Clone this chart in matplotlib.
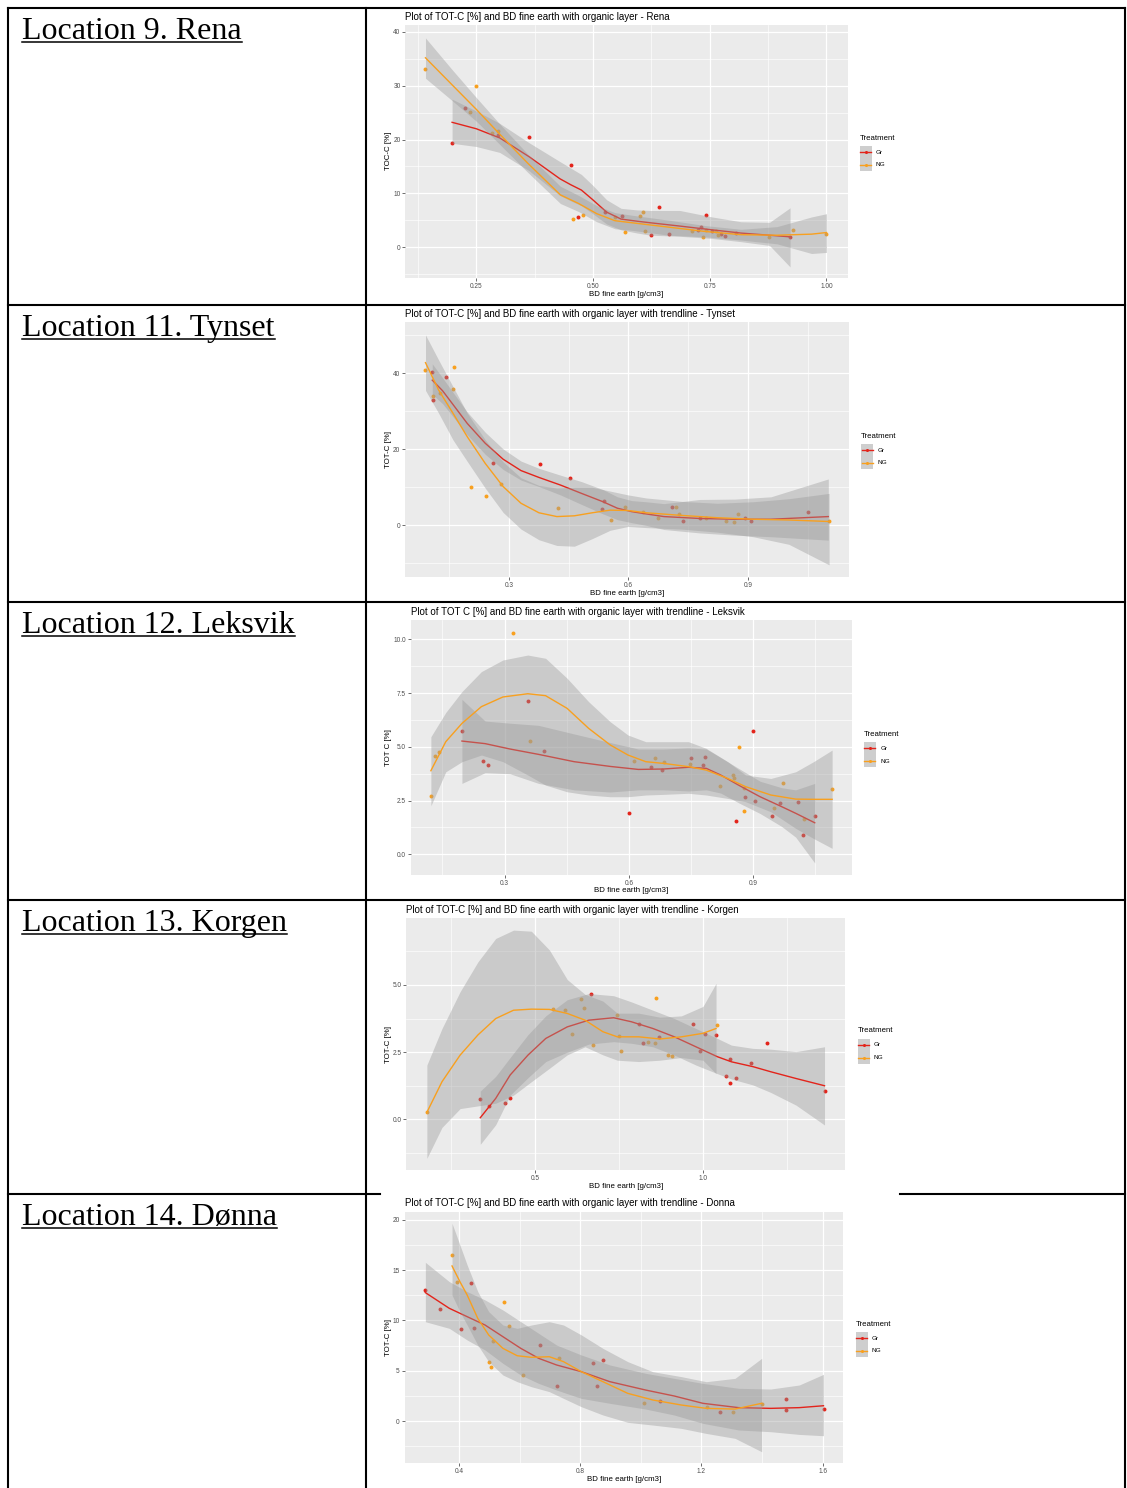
import matplotlib
matplotlib.use("Agg")
import matplotlib.pyplot as plt
from matplotlib.lines import Line2D
from matplotlib.patches import Rectangle

W, H = 1127, 1488

# ---------------- data ----------------
locations = ["Location 9. Rena", "Location 11. Tynset", "Location 12. Leksvik",
             "Location 13. Korgen", "Location 14. Dønna"]
titles = ["Plot of TOT-C [%] and BD fine earth with organic layer - Rena",
          "Plot of TOT-C [%] and BD fine earth with organic layer with trendline - Tynset",
          "Plot of TOT C [%] and BD fine earth with organic layer with trendline - Leksvik",
          "Plot of TOT-C [%] and BD fine earth with organic layer with trendline - Korgen",
          "Plot of TOT-C [%] and BD fine earth with organic layer with trendline - Donna"]
ylabels = ["TOC-C [%]", "TOT-C [%]", "TOT C [%]", "TOT-C [%]", "TOT-C [%]"]
xlabel = "BD fine earth [g/cm3]"
groups = ["Gr", "NG"]

# Rena
rena_xticks = [0.25, 0.50, 0.75, 1.00]
rena_xticklabels = ["0.25", "0.50", "0.75", "1.00"]
rena_yticks = [0, 10, 20, 30, 40]
rena_yticklabels = ["0", "10", "20", "30", "40"]
rena_gr_x = [0.198, 0.226, 0.296, 0.363, 0.452, 0.467, 0.525, 0.563, 0.624, 0.642, 0.663,
             0.725, 0.732, 0.742, 0.754, 0.775, 0.782, 0.806, 0.922]
rena_gr_y = [19.3, 25.9, 20.8, 20.5, 15.3, 5.5, 6.5, 5.8, 2.3, 7.4, 2.5,
             3.1, 3.7, 6.0, 3.0, 2.5, 2.1, 2.6, 1.9]
rena_ng_x = [0.141, 0.25, 0.237, 0.283, 0.296, 0.456, 0.479, 0.546, 0.568, 0.601, 0.607,
             0.612, 0.712, 0.736, 0.742, 0.763, 0.767, 0.876, 0.928, 1.0]
rena_ng_y = [33.1, 29.9, 25.2, 21.3, 21.5, 5.2, 6.0, 5.6, 2.8, 5.7, 6.6,
             3.0, 2.9, 1.9, 3.1, 3.0, 2.3, 1.9, 3.1, 2.4]
rena_gr_fit_x = [0.198, 0.25, 0.30, 0.363, 0.429, 0.452, 0.475, 0.498, 0.529, 0.56, 0.595,
                 0.624, 0.686, 0.755, 0.817, 0.878, 0.922]
rena_gr_fit_y = [23.2, 22.0, 20.3, 16.8, 12.7, 11.6, 10.6, 8.9, 6.5, 5.2, 4.8,
                 4.5, 3.9, 3.2, 2.6, 2.2, 1.9]
rena_gr_hi = [27.5, 25.3, 23.0, 19.4, 15.9, 14.7, 13.5, 11.6, 8.8, 7.2, 6.9,
              6.8, 6.8, 5.6, 4.7, 4.6, 7.3]
rena_gr_lo = [19.3, 18.7, 17.6, 14.2, 9.6, 8.6, 7.7, 6.3, 4.3, 3.2, 2.6,
              2.2, 2.0, 1.6, 1.0, 0.3, -3.7]
rena_ng_fit_x = [0.141, 0.20, 0.25, 0.30, 0.36, 0.43, 0.469, 0.508, 0.547, 0.585, 0.662,
                 0.74, 0.817, 0.894, 0.968, 1.0]
rena_ng_fit_y = [35.2, 30.0, 25.6, 21.0, 15.6, 9.7, 8.1, 6.2, 4.9, 4.5, 3.7, 2.9, 2.3, 2.2, 2.4, 2.7]
rena_ng_hi = [38.9, 32.8, 27.8, 22.9, 17.3, 11.3, 9.6, 7.7, 6.4, 5.9, 5.0, 4.0, 3.3, 3.8, 5.6, 6.2]
rena_ng_lo = [31.4, 27.1, 23.4, 19.1, 13.9, 8.1, 6.6, 4.7, 3.4, 3.1, 2.2, 1.9, 1.3, 0.6, -1.2, -1.0]

# Tynset
tyn_xticks = [0.3, 0.6, 0.9]
tyn_xticklabels = ["0.3", "0.6", "0.9"]
tyn_yticks = [0, 20, 40]
tyn_yticklabels = ["0", "20", "40"]
tyn_gr_x = [0.107, 0.108, 0.141, 0.26, 0.377, 0.453, 0.538, 0.533, 0.709, 0.738, 0.779,
            0.893, 0.907, 1.052]
tyn_gr_y = [40.3, 33.0, 39.1, 16.3, 16.1, 12.5, 6.4, 4.4, 4.9, 1.1, 1.8, 1.8, 1.2, 3.4]
tyn_ng_x = [0.09, 0.108, 0.127, 0.162, 0.159, 0.204, 0.241, 0.28, 0.422, 0.557, 0.592,
            0.637, 0.675, 0.719, 0.726, 0.795, 0.844, 0.866, 0.876, 1.104]
tyn_ng_y = [40.9, 33.9, 34.7, 41.7, 35.8, 10.2, 7.8, 10.9, 4.5, 1.4, 4.7,
            3.6, 2.0, 4.9, 3.0, 1.8, 1.1, 0.9, 3.0, 1.2]
tyn_gr_fit_x = [0.107, 0.133, 0.159, 0.195, 0.24, 0.285, 0.33, 0.375, 0.429, 0.482, 0.536,
                0.572, 0.608, 0.644, 0.689, 0.779, 0.868, 0.958, 1.102]
tyn_gr_fit_y = [38.2, 35.4, 31.8, 26.8, 21.6, 17.4, 14.4, 12.6, 10.6, 8.4, 6.2,
                4.5, 3.6, 3.0, 2.3, 1.8, 1.6, 1.6, 2.3]
tyn_gr_hi = [42.5, 38.8, 35.0, 29.8, 24.5, 20.1, 16.9, 15.0, 13.2, 11.5, 9.4,
             7.5, 6.5, 6.2, 5.7, 6.8, 6.9, 7.5, 12.2]
tyn_gr_lo = [34.5, 32.0, 28.6, 23.8, 18.7, 14.7, 11.9, 10.2, 8.0, 5.5, 3.0,
             1.5, 0.7, 0.0, -1.1, -2.0, -2.6, -3.0, -3.9]
tyn_ng_fit_x = [0.09, 0.123, 0.159, 0.195, 0.24, 0.285, 0.33, 0.375, 0.42, 0.464, 0.509,
                0.554, 0.599, 0.644, 0.734, 0.823, 0.913, 1.003, 1.104]
tyn_ng_fit_y = [42.8, 35.6, 29.5, 23.3, 16.3, 10.2, 5.8, 3.3, 2.3, 2.5, 3.3,
                4.0, 3.9, 3.3, 2.6, 2.0, 1.6, 1.4, 1.0]
tyn_ng_hi = [50.1, 43.5, 36.5, 29.5, 22.5, 16.7, 12.5, 10.5, 9.8, 10.0, 10.0,
             9.0, 8.0, 7.2, 6.3, 5.8, 6.2, 7.0, 8.4]
tyn_ng_lo = [35.5, 29.5, 22.5, 16.8, 9.8, 3.4, -1.0, -3.8, -5.3, -5.5, -3.5,
             -1.3, -0.3, -0.6, -1.0, -1.8, -3.0, -5.0, -10.4]

# Leksvik
lek_xticks = [0.3, 0.6, 0.9]
lek_xticklabels = ["0.3", "0.6", "0.9"]
lek_yticks = [0.0, 2.5, 5.0, 7.5, 10.0]
lek_yticklabels = ["0.0", "2.5", "5.0", "7.5", "10.0"]
lek_gr_x = [0.197, 0.248, 0.26, 0.356, 0.394, 0.6, 0.654, 0.68, 0.749, 0.779, 0.783,
            0.858, 0.9, 0.881, 0.905, 0.947, 0.966, 1.008, 1.02, 1.049]
lek_gr_y = [5.72, 4.36, 4.16, 7.13, 4.79, 1.92, 4.05, 3.94, 4.47, 4.14, 4.51,
            1.55, 5.74, 2.68, 2.50, 1.80, 2.37, 2.43, 0.90, 1.78]
lek_ng_x = [0.122, 0.132, 0.142, 0.32, 0.362, 0.613, 0.664, 0.684, 0.747, 0.82, 0.852,
            0.855, 0.867, 0.877, 0.878, 0.951, 0.972, 1.023, 1.091]
lek_ng_y = [2.71, 4.59, 4.76, 10.31, 5.27, 4.34, 4.47, 4.28, 4.19, 3.19, 3.69,
            3.57, 4.99, 2.02, 3.10, 2.17, 3.30, 1.63, 3.02]
lek_gr_fit_x = [0.197, 0.253, 0.313, 0.382, 0.468, 0.555, 0.623, 0.684, 0.744, 0.787,
                0.822, 0.865, 0.917, 0.969, 1.003, 1.049]
lek_gr_fit_y = [5.27, 5.15, 4.90, 4.65, 4.31, 4.09, 3.95, 3.97, 4.05, 4.00,
                3.69, 3.22, 2.68, 2.22, 1.91, 1.47]
lek_gr_hi = [7.21, 6.2, 6.1, 6.0, 5.6, 5.2, 4.9, 4.9, 4.95, 4.9, 4.5, 4.0, 3.4, 3.1, 3.0, 3.3]
lek_gr_lo = [3.30, 3.8, 3.75, 3.3, 3.0, 2.9, 3.0, 3.0, 2.95, 3.0, 2.85, 2.4, 1.9, 1.3, 0.8, -0.4]
lek_ng_fit_x = [0.122, 0.158, 0.197, 0.244, 0.296, 0.356, 0.399, 0.451, 0.503, 0.555, 0.598,
                0.641, 0.684, 0.744, 0.787, 0.839, 0.882, 0.943, 1.003, 1.046, 1.091]
lek_ng_fit_y = [3.89, 5.24, 6.09, 6.87, 7.32, 7.47, 7.38, 6.79, 5.86, 5.09, 4.62,
                4.31, 4.23, 4.08, 3.92, 3.53, 3.15, 2.76, 2.57, 2.56, 2.56]
lek_ng_hi = [5.47, 6.6, 7.57, 8.5, 9.04, 9.27, 9.12, 8.19, 7.1, 6.17, 5.55,
             5.24, 5.24, 5.24, 4.93, 4.31, 3.69, 3.53, 3.84, 4.31, 4.85]
lek_ng_lo = [2.26, 3.84, 4.31, 4.62, 4.31, 3.69, 3.22, 2.91, 2.76, 2.68, 2.68,
             2.76, 2.79, 2.84, 2.76, 2.6, 2.45, 1.98, 1.21, 0.74, 0.28]

# Korgen
kor_xticks = [0.5, 1.0]
kor_xticklabels = ["0.5", "1.0"]
kor_yticks = [0.0, 2.5, 5.0]
kor_yticklabels = ["0.0", "2.5", "5.0"]
kor_gr_x = [0.337, 0.362, 0.41, 0.426, 0.666, 0.81, 0.822, 0.87, 0.971, 0.991, 1.005,
            1.038, 1.068, 1.081, 1.081, 1.098, 1.143, 1.19, 1.364]
kor_gr_y = [0.76, 0.50, 0.61, 0.81, 4.66, 3.56, 2.83, 3.07, 3.53, 2.55, 3.16,
            3.14, 1.61, 1.35, 2.24, 1.54, 2.08, 2.84, 1.07]
kor_ng_x = [0.178, 0.554, 0.588, 0.611, 0.637, 0.646, 0.672, 0.745, 0.75, 0.756, 0.835,
            0.856, 0.86, 0.897, 0.909, 1.041]
kor_ng_y = [0.27, 4.09, 4.05, 3.16, 4.46, 4.15, 2.75, 3.88, 3.09, 2.55, 2.86,
            2.83, 4.52, 2.39, 2.37, 3.52]
kor_gr_fit_x = [0.337, 0.383, 0.426, 0.479, 0.532, 0.596, 0.66, 0.734, 0.787, 0.851,
                0.915, 0.979, 1.043, 1.085, 1.149, 1.202, 1.277, 1.362]
kor_gr_fit_y = [0.06, 0.78, 1.65, 2.39, 3.01, 3.44, 3.69, 3.78, 3.63, 3.38,
                3.07, 2.70, 2.33, 2.14, 1.96, 1.77, 1.52, 1.25]
kor_gr_hi = [1.05, 1.6, 2.3, 3.15, 3.85, 4.45, 4.68, 4.6, 4.37, 4.06,
             3.75, 3.38, 3.01, 2.76, 2.64, 2.61, 2.52, 2.7]
kor_gr_lo = [-0.93, -0.2, 0.9, 1.55, 2.15, 2.5, 2.8, 2.89, 2.83, 2.7,
             2.39, 2.02, 1.7, 1.5, 1.28, 1.0, 0.53, -0.21]
kor_ng_fit_x = [0.178, 0.223, 0.277, 0.33, 0.383, 0.436, 0.489, 0.543, 0.596, 0.649,
                0.702, 0.745, 0.809, 0.872, 0.936, 1.0, 1.039]
kor_ng_fit_y = [0.26, 1.40, 2.39, 3.14, 3.75, 4.06, 4.10, 4.09, 3.94, 3.69,
                3.26, 3.07, 3.07, 2.99, 3.07, 3.20, 3.38]
kor_ng_hi = [2.02, 3.38, 4.75, 5.86, 6.73, 7.04, 7.0, 6.3, 5.2, 4.65,
             4.4, 3.95, 3.95, 3.8, 3.85, 4.2, 5.06]
kor_ng_lo = [-1.45, -0.3, 0.4, 0.5, 0.6, 0.9, 1.4, 1.9, 2.4, 2.7,
             2.4, 2.2, 2.15, 2.2, 2.3, 2.2, 1.7]

# Donna
don_xticks = [0.4, 0.8, 1.2, 1.6]
don_xticklabels = ["0.4", "0.8", "1.2", "1.6"]
don_yticks = [0, 5, 10, 15, 20]
don_yticklabels = ["0", "5", "10", "15", "20"]
don_gr_x = [0.289, 0.336, 0.408, 0.439, 0.448, 0.669, 0.722, 0.843, 0.854, 0.876,
            1.064, 1.262, 1.479, 1.479, 1.603]
don_gr_y = [13.02, 11.13, 9.15, 13.75, 9.28, 7.52, 3.45, 5.77, 3.51, 6.06,
            2.02, 0.93, 2.15, 1.06, 1.23]
don_ng_x = [0.377, 0.395, 0.5, 0.507, 0.513, 0.548, 0.566, 0.611, 0.73, 1.01,
            1.219, 1.304, 1.399]
don_ng_y = [16.5, 13.85, 5.83, 5.33, 7.99, 11.83, 9.44, 4.57, 6.26, 1.82,
            1.36, 0.89, 1.69]
don_gr_fit_x = [0.289, 0.368, 0.427, 0.486, 0.545, 0.604, 0.663, 0.722, 0.804, 0.898,
                1.016, 1.11, 1.205, 1.323, 1.429, 1.523, 1.603]
don_gr_fit_y = [12.76, 11.2, 10.37, 9.54, 8.38, 7.22, 6.23, 5.57, 4.9, 3.91,
                3.08, 2.49, 1.76, 1.33, 1.26, 1.33, 1.52]
don_gr_hi = [15.77, 13.85, 12.86, 12.03, 11.03, 9.87, 8.71, 7.55, 6.56, 5.57,
             4.74, 4.24, 3.74, 3.25, 3.18, 3.58, 4.64]
don_gr_lo = [9.87, 9.21, 8.05, 7.06, 5.73, 4.57, 3.74, 3.08, 2.25, 1.76,
             1.19, 0.6, -0.23, -0.89, -1.06, -1.33, -1.46]
don_ng_fit_x = [0.377, 0.403, 0.427, 0.462, 0.498, 0.545, 0.592, 0.639, 0.698, 0.745,
                0.804, 0.875, 0.957, 1.04, 1.134, 1.216, 1.311, 1.399]
don_ng_fit_y = [15.41, 13.85, 12.52, 10.2, 8.55, 7.22, 6.49, 6.33, 6.39, 5.9,
                4.9, 3.91, 2.75, 2.09, 1.59, 1.26, 1.19, 1.76]
don_ng_hi = [19.65, 17.5, 15.5, 12.86, 10.87, 9.54, 9.21, 9.54, 9.87, 9.54,
             8.55, 7.22, 5.9, 4.9, 4.41, 3.91, 4.24, 6.23]
don_ng_lo = [12.52, 10.87, 9.54, 7.55, 5.9, 4.57, 3.91, 3.41, 2.92, 2.25,
             1.42, 0.6, -0.13, -0.4, -0.73, -1.23, -1.72, -3.05]

charts = [
    dict(xt=rena_xticks, xtl=rena_xticklabels, yt=rena_yticks, ytl=rena_yticklabels,
         pts=[(rena_gr_x, rena_gr_y), (rena_ng_x, rena_ng_y)],
         fits=[(rena_gr_fit_x, rena_gr_fit_y, rena_gr_lo, rena_gr_hi),
               (rena_ng_fit_x, rena_ng_fit_y, rena_ng_lo, rena_ng_hi)]),
    dict(xt=tyn_xticks, xtl=tyn_xticklabels, yt=tyn_yticks, ytl=tyn_yticklabels,
         pts=[(tyn_gr_x, tyn_gr_y), (tyn_ng_x, tyn_ng_y)],
         fits=[(tyn_gr_fit_x, tyn_gr_fit_y, tyn_gr_lo, tyn_gr_hi),
               (tyn_ng_fit_x, tyn_ng_fit_y, tyn_ng_lo, tyn_ng_hi)]),
    dict(xt=lek_xticks, xtl=lek_xticklabels, yt=lek_yticks, ytl=lek_yticklabels,
         pts=[(lek_gr_x, lek_gr_y), (lek_ng_x, lek_ng_y)],
         fits=[(lek_gr_fit_x, lek_gr_fit_y, lek_gr_lo, lek_gr_hi),
               (lek_ng_fit_x, lek_ng_fit_y, lek_ng_lo, lek_ng_hi)]),
    dict(xt=kor_xticks, xtl=kor_xticklabels, yt=kor_yticks, ytl=kor_yticklabels,
         pts=[(kor_gr_x, kor_gr_y), (kor_ng_x, kor_ng_y)],
         fits=[(kor_gr_fit_x, kor_gr_fit_y, kor_gr_lo, kor_gr_hi),
               (kor_ng_fit_x, kor_ng_fit_y, kor_ng_lo, kor_ng_hi)]),
    dict(xt=don_xticks, xtl=don_xticklabels, yt=don_yticks, ytl=don_yticklabels,
         pts=[(don_gr_x, don_gr_y), (don_ng_x, don_ng_y)],
         fits=[(don_gr_fit_x, don_gr_fit_y, don_gr_lo, don_gr_hi),
               (don_ng_fit_x, don_ng_fit_y, don_ng_lo, don_ng_hi)]),
]

# ---------------- layout (pixels of the 1127x1488 page) ----------------
# panel box (left, top, right, bottom), axis limits, title y, x-label y, legend (x, title y, key ys, text x)
layout = [
    dict(box=(405.4, 25.0, 847.5, 277.7), xlim=(0.098, 1.045), ylim=(-5.7, 41.3),
         title_y=16.7, xlab_y=294.5, leg=(859.5, 138.0, 152.3, 165.0, 875.7)),
    dict(box=(405.0, 322.0, 848.6, 577.0), xlim=(0.0385, 1.153), ylim=(-13.6, 53.5),
         title_y=313.7, xlab_y=593.3, leg=(861.0, 436.0, 450.3, 463.0, 878.0)),
    dict(box=(411.0, 620.0, 852.0, 875.0), xlim=(0.074, 1.139), ylim=(-0.96, 10.9),
         title_y=611.7, xlab_y=891.0, leg=(863.6, 734.0, 748.3, 761.0, 880.4)),
    dict(box=(406.4, 918.3, 845.0, 1170.0), xlim=(0.117, 1.423), ylim=(-1.885, 7.48),
         title_y=909.7, xlab_y=1186.7, leg=(857.5, 1031.0, 1045.0, 1057.7, 873.6)),
    dict(box=(404.6, 1212.3, 843.2, 1462.7), xlim=(0.2205, 1.668), ylim=(-4.14, 20.74),
         title_y=1203.3, xlab_y=1479.7, leg=(855.7, 1324.0, 1338.3, 1351.0, 871.8)),
]
row_tops = [8, 305, 602, 900, 1194]

COLORS = ["#E3241B", "#F8A01F"]
SANS = "Liberation Sans"


def fx(px):
    return px / W


def fy(py):
    return 1 - py / H


fig = plt.figure(figsize=(W / 100, H / 100), dpi=100)
fig.patch.set_facecolor("white")


def line(x0, y0, x1, y1, lw=1.5, color="black"):
    fig.add_artist(Line2D([fx(x0), fx(x1)], [fy(y0), fy(y1)], color=color, lw=lw,
                          solid_capstyle="projecting"))


# table grid
for x in (8, 366, 1125):
    line(x, 8, x, 1488)
for y in row_tops[:4]:
    line(8, y, 1125, y)
line(8, 1194, 380, 1194)
line(900, 1194, 1125, 1194)

loc_texts = []
for name, top in zip(locations, row_tops):
    t = fig.text(fx(22), fy(top + 31), name, fontsize=23, family="Liberation Serif",
                 va="baseline", ha="left")
    loc_texts.append((t, top))


for ch, lay, title, ylab in zip(charts, layout, titles, ylabels):
    x0, y0, x1, y1 = lay["box"]
    ax = fig.add_axes([fx(x0), fy(y1), (x1 - x0) / W, (y1 - y0) / H])
    ax.set_facecolor("#EBEBEB")
    for s in ax.spines.values():
        s.set_visible(False)
    ax.set_xticks(ch["xt"])
    ax.set_xticklabels(ch["xtl"])
    ax.set_yticks(ch["yt"])
    ax.set_yticklabels(ch["ytl"])
    xs = ch["xt"]
    dx = xs[1] - xs[0]
    ax.set_xticks([xs[0] - dx / 2] + [v + dx / 2 for v in xs], minor=True)
    ys = ch["yt"]
    dy = ys[1] - ys[0]
    ax.set_yticks([ys[0] - dy / 2] + [v + dy / 2 for v in ys], minor=True)
    ax.set_xlim(lay["xlim"])
    ax.set_ylim(lay["ylim"])
    ax.grid(which="major", color="white", lw=0.9)
    ax.grid(which="minor", color="white", lw=0.45)
    ax.set_axisbelow(True)
    ax.tick_params(which="minor", length=0)
    ax.tick_params(which="major", length=2, width=0.5, color="#333333",
                   labelsize=4.7, labelcolor="#4D4D4D", pad=1.5)
    for lab in ax.get_xticklabels() + ax.get_yticklabels():
        lab.set_family(SANS)

    for (px, py), c in zip(ch["pts"], COLORS):
        ax.scatter(px, py, s=8, color=c, linewidths=0, zorder=2)
    z = 3
    for (fx_, fy_, lo, hi), c in zip(ch["fits"], COLORS):
        ax.fill_between(fx_, lo, hi, color="#999999", alpha=0.4, linewidth=0, zorder=z)
        ax.plot(fx_, fy_, color=c, lw=1.0, zorder=z + 1, solid_joinstyle="round")
        z += 2

    fig.text(fx(x0), fy(lay["title_y"]), title, fontsize=7.0, family=SANS,
             va="center", ha="left", color="black")
    fig.text(fx((x0 + x1) / 2), fy(lay["xlab_y"]), xlabel, fontsize=5.7, family=SANS,
             va="center", ha="center")
    fig.text(fx(388.5), fy((y0 + y1) / 2), ylab, fontsize=5.7, family=SANS,
             va="center", ha="center", rotation=90)

    # legend
    lx, ty, gy, ny, tx = lay["leg"]
    fig.text(fx(lx), fy(ty), "Treatment", fontsize=5.6, family=SANS, va="center", ha="left")
    kw = 12.2
    half = (ny - gy) / 2
    for g, ky, c in zip(groups, (gy, ny), COLORS):
        fig.add_artist(Rectangle((fx(lx), fy(ky + half)), kw / W, 2 * half / H,
                                 facecolor="#CECECE", edgecolor="none"))
        fig.add_artist(Line2D([fx(lx + 0.5), fx(lx + kw - 0.5)], [fy(ky), fy(ky)],
                              color=c, lw=1.0))
        fig.add_artist(Line2D([fx(lx + kw / 2)], [fy(ky)], marker="o", markersize=2.2,
                              color=c, markeredgewidth=0, lw=0))
        fig.text(fx(tx), fy(ky), g, fontsize=4.6, family=SANS, va="center", ha="left")

# underline the location labels
fig.canvas.draw()
renderer = fig.canvas.get_renderer()
for t, top in loc_texts:
    bb = t.get_window_extent(renderer)
    uy = top + 34
    line(bb.x0, uy, bb.x1, uy, lw=1.1)

fig.savefig("out.png", dpi=100)
